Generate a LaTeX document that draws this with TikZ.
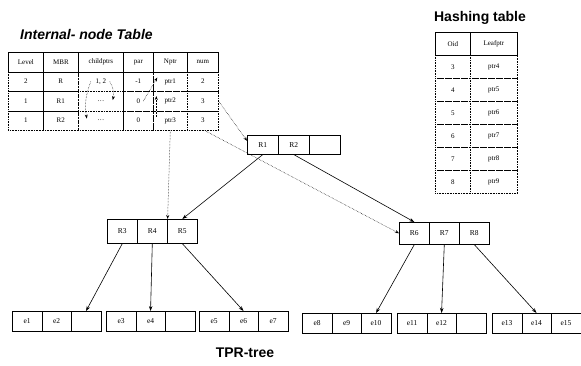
\documentclass[tikz,border=0pt]{standalone}
\usepackage{fontspec}
\setmainfont{Liberation Serif}
\setsansfont{Liberation Sans}
\usetikzlibrary{arrows.meta}

\tikzset{
  tabtitle/.style={font=\sffamily\bfseries\fontsize{14}{16}\selectfont, inner sep=0pt},
  headcell/.style={draw, line width=0.8pt, minimum height=19.5pt, inner sep=0pt, anchor=north west, font=\fontsize{7}{8}\selectfont},
  bodycell/.style={draw, densely dotted, line width=0.6pt, minimum height=19.5pt, inner sep=0pt, anchor=north west, font=\fontsize{7}{8}\selectfont},
  hashhead/.style={headcell, minimum height=23pt},
  hashbody/.style={bodycell, minimum height=23pt},
  trcell/.style={draw, line width=0.6pt, inner sep=0pt, anchor=north west, font=\fontsize{7.5}{8}\selectfont},
  child/.style={-{Stealth[length=5pt,width=3.5pt]}, line width=0.6pt},
  ptr/.style={-{Stealth[length=4pt,width=3pt]}, densely dotted, line width=0.5pt},
}

\begin{document}
\begin{tikzpicture}[x=1pt, y=-1pt]
        \useasboundingbox (0,0) rectangle (581,365);
        % titles
        \node[tabtitle, font=\sffamily\bfseries\itshape\fontsize{14}{16}\selectfont, anchor=west] (ittitle) at (20,34) {Internal- node Table};
        \node[tabtitle] (httitle) at (480,18) {Hashing table};
        \node[tabtitle] (tprtitle) at (245,353) {TPR-tree};
        % internal-node table
        \foreach \c/\x/\w/\t in {1/8/35/Level, 2/43/35/MBR, 3/78/45/childptrs, 4/123/30/par, 5/153/34/Nptr, 6/187/31/num}
          \node[headcell, minimum width=\w pt] (it0\c) at (\x,52) {\t};
        \foreach \c/\x/\w/\t in {1/8/35/2, 2/43/35/R, 3/78/45/{1, 2}, 4/123/30/-1, 5/153/34/ptr1, 6/187/31/2}
          \node[bodycell, minimum width=\w pt] (it1\c) at (\x,71.5) {\t};
        \foreach \c/\x/\w/\t in {1/8/35/1, 2/43/35/R1, 3/78/45/\dots, 4/123/30/0, 5/153/34/ptr2, 6/187/31/3}
          \node[bodycell, minimum width=\w pt] (it2\c) at (\x,91) {\t};
        \foreach \c/\x/\w/\t in {1/8/35/1, 2/43/35/R2, 3/78/45/\dots, 4/123/30/0, 5/153/34/ptr3, 6/187/31/3}
          \node[bodycell, minimum width=\w pt] (it3\c) at (\x,110.5) {\t};
        % hashing table
        \node[hashhead, minimum width=35pt] (ht0a) at (435,32) {Oid};
        \node[hashhead, minimum width=47pt] (ht0b) at (470,32) {Leafptr};
        \foreach \r/\o/\p in {1/3/ptr4, 2/4/ptr5, 3/5/ptr6, 4/6/ptr7, 5/7/ptr8, 6/8/ptr9}
        {
          \node[hashbody, minimum width=35pt] (ht\r a) at (435,32+23*\r) {\o};
          \node[hashbody, minimum width=47pt] (ht\r b) at (470,32+23*\r) {\p};
        }
        % tree nodes
        \foreach \x/\y/\w/\h/\na/\ta/\nb/\tb/\nc/\tc in {247/135/31/19/r1/R1/r2/R2/rt/{},
            107/219/30/24/r3/R3/r4/R4/r5/R5, 399/222/30/22/r6/R6/r7/R7/r8/R8,
            12/311/29.5/20/e1/e1/e2/e2/la/{}, 106/311/29.5/20/e3/e3/e4/e4/lb/{},
            199/311/29.5/20/e5/e5/e6/e6/e7/e7, 302/313/29.5/20/e8/e8/e9/e9/e10/e10,
            397/313/29.5/20/e11/e11/e12/e12/lc/{}, 492/313/29.5/20/e13/e13/e14/e14/e15/e15}
        {
          \node[trcell, minimum width=\w pt, minimum height=\h pt] (\na) at (\x,\y) {\ta};
          \node[trcell, minimum width=\w pt, minimum height=\h pt] (\nb) at (\x+\w,\y) {\tb};
          \node[trcell, minimum width=\w pt, minimum height=\h pt] (\nc) at (\x+2*\w,\y) {\tc};
        }
        % tree edges
        \draw[child] (r1.south) -- (r5.north);
        \draw[child] (r2.south) -- (r6.north);
        \draw[child] (r3.south) -- (la.north);
        \draw[child] (r4.south) -- (e4.north);
        \draw[child] (r5.south) -- (e6.north);
        \draw[child] (r6.south) -- (e10.north);
        \draw[child] (r7.south) -- (e12.north);
        \draw[child] (r8.south) -- (e14.north);
        % pointers inside the table
        \draw[ptr] ([xshift=9pt]it13.center) to[bend left=20] ([xshift=12pt, yshift=1pt]it23.center);
        \draw[ptr] ([xshift=-10pt]it13.center) to[bend right=15] ([xshift=-14pt, yshift=2pt]it33.center);
        \draw[ptr] ([xshift=5pt]it24.center) -- ([xshift=-13pt, yshift=4pt]it15.center);
        \draw[ptr] ([xshift=-14pt, yshift=4pt]it35.center) -- ([xshift=-14pt, yshift=-5pt]it25.north);
        % pointers from the table to the tree
        \draw[ptr] (it26.east) -- ([yshift=4pt]r1.west);
        \draw[ptr] (it35.south) -- (r4.north east);
        \draw[ptr] ([xshift=2pt]it36.south) -- (r6.west);
      \end{tikzpicture}
\end{document}
